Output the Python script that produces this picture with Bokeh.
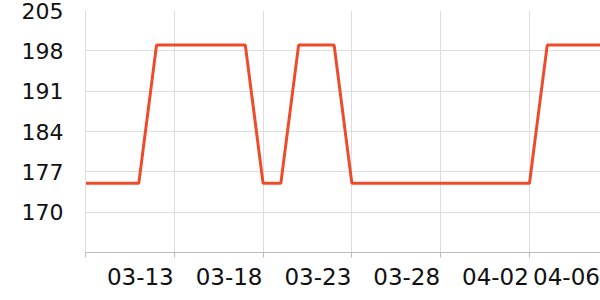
from datetime import datetime, timedelta
from bokeh.plotting import figure
from bokeh.models import Range1d, FixedTicker, DatetimeAxis
from bokeh.embed import file_html
from bokeh.resources import INLINE

# data
start = datetime(2024, 3, 8)
dates = [start + timedelta(days=i) for i in range(30)]
values = [175, 175, 175, 175, 199, 199, 199, 199, 199, 199,
          175, 175, 199, 199, 199, 175, 175, 175, 175, 175,
          175, 175, 175, 175, 175, 175, 199, 199, 199, 199]
y_ticks = [170, 177, 184, 191, 198, 205]
x_tick_dates = [datetime(2024, 3, 8), datetime(2024, 3, 13), datetime(2024, 3, 18),
                datetime(2024, 3, 23), datetime(2024, 3, 28), datetime(2024, 4, 2),
                datetime(2024, 4, 6)]
x_tick_labels = ["", "03-13", "03-18", "03-23", "03-28", "04-02", "04-06"]

def ms(d):
    return (d - datetime(1970, 1, 1)).total_seconds() * 1000.0

FONT = "DejaVu Sans"
PLOT_W = 515  # frame width in px
HALF_LABEL_PX = 34  # labels are right-aligned to their tick

p = figure(width=600, height=300, x_axis_type="datetime", output_backend="svg",
           toolbar_location=None, min_border_left=85, min_border_right=0,
           min_border_top=10, min_border_bottom=48)
x0, x1 = ms(dates[0]), ms(dates[-1])
p.x_range = Range1d(x0, x1)
p.y_range = Range1d(163, 205)

p.line(dates, values, line_color="#ee4b2b", line_width=3)

p.outline_line_color = None
p.background_fill_color = "white"
p.border_fill_color = "white"

tick_ms = [ms(d) for d in x_tick_dates]
# main axis: line + tick marks, no labels
p.xaxis.ticker = FixedTicker(ticks=tick_ms)
p.xaxis.major_label_overrides = {t: "" for t in tick_ms}
p.xaxis.axis_line_color = "#bbbbbb"
p.xaxis.major_tick_line_color = "#bbbbbb"
p.xaxis.major_tick_in = 0
p.xaxis.major_tick_out = 5
p.xaxis.minor_tick_line_color = None
p.xaxis.major_label_text_font_size = "1px"
p.xaxis.major_label_standoff = 0

# label axis: labels ending at their tick
shift = HALF_LABEL_PX * (x1 - x0) / PLOT_W
lab_ticks = [t - shift for t in tick_ms]
lab_axis = DatetimeAxis(ticker=FixedTicker(ticks=lab_ticks),
                        major_label_overrides={t: l for t, l in zip(lab_ticks, x_tick_labels)},
                        axis_line_color=None, major_tick_line_color=None,
                        minor_tick_line_color=None,
                        major_label_text_font=FONT, major_label_text_font_size="23px",
                        major_label_text_color="#111111", major_label_standoff=4)
p.add_layout(lab_axis, "below")

p.yaxis.ticker = FixedTicker(ticks=y_ticks)
p.yaxis.axis_line_color = "#dddddd"
p.yaxis.major_tick_line_color = None
p.yaxis.minor_tick_line_color = None
p.yaxis.major_label_text_font = FONT
p.yaxis.major_label_text_font_size = "22px"
p.yaxis.major_label_text_color = "#111111"
p.yaxis.major_label_standoff = 16

p.xgrid.grid_line_color = "#dddddd"
p.ygrid.grid_line_color = "#dddddd"
p.xgrid.ticker = FixedTicker(ticks=tick_ms)
p.ygrid.ticker = FixedTicker(ticks=y_ticks)

open("out.html", "w").write(file_html(p, INLINE))
